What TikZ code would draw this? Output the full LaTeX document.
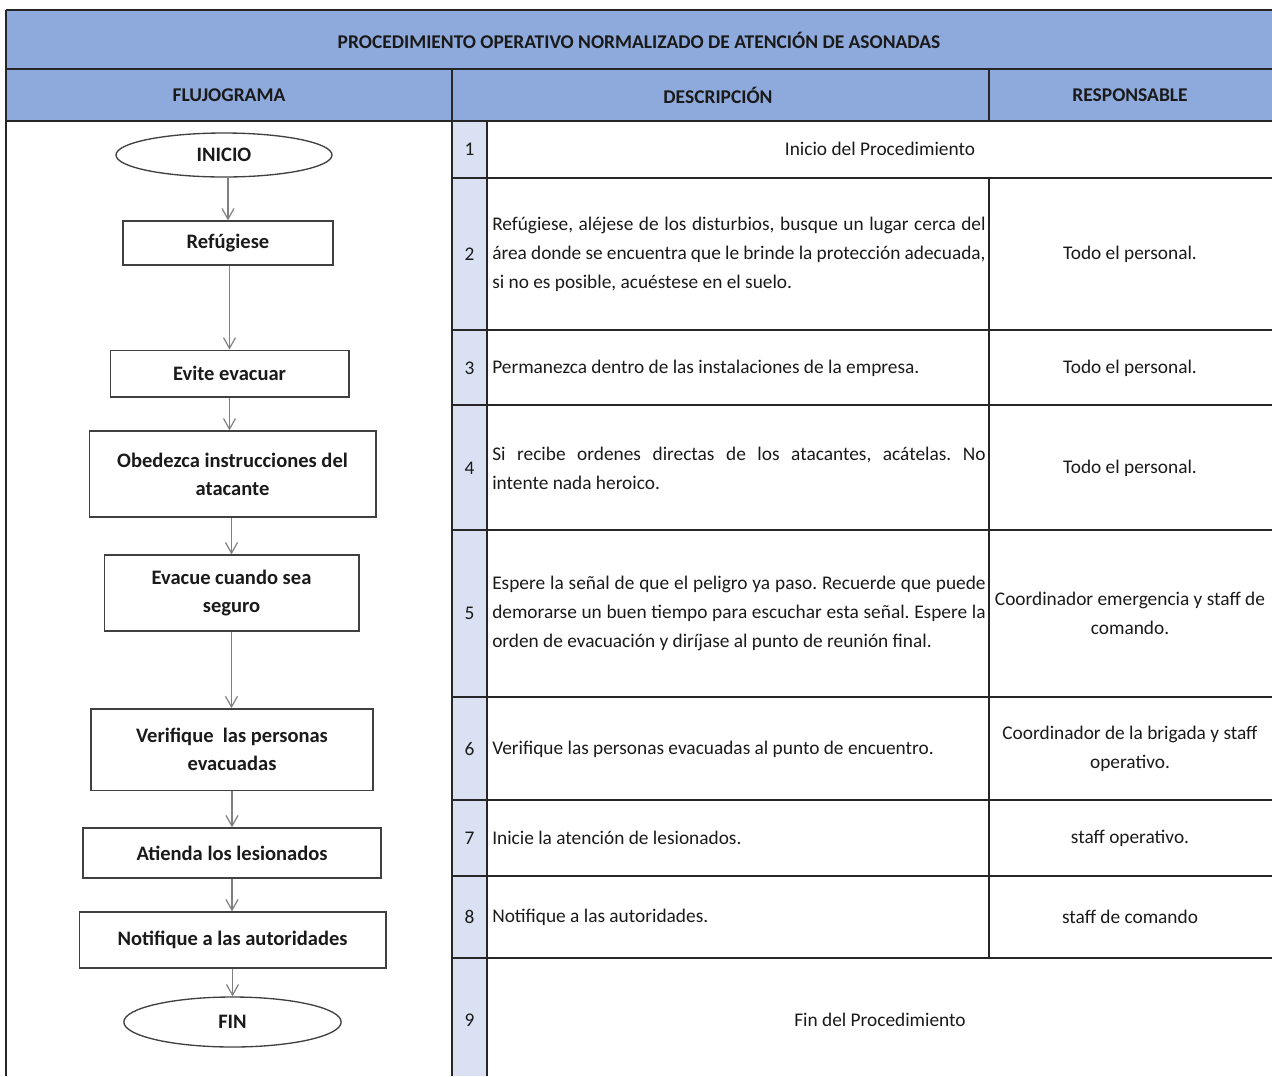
\documentclass[tikz,border=0pt]{standalone}
\usepackage{fontspec}
\setmainfont{Carlito}
\usetikzlibrary{shapes.geometric,arrows.meta}
\frenchspacing
\definecolor{hdrblue}{HTML}{8EA9DB}
\definecolor{numblue}{HTML}{D9E1F2}
\definecolor{boxline}{HTML}{404040}
\definecolor{arrgray}{HTML}{808080}
\definecolor{inkc}{HTML}{1A1A1A}
\tikzset{
 tbl/.style={line width=1.1pt, draw=black!85},
 hdrtext/.style={font=\bfseries\fontsize{14.6}{21}\selectfont, inner sep=0, text=inkc},
 txt/.style={font=\frenchspacing\fontsize{14.5}{21.75}\selectfont, inner sep=0, text=inkc},
 desc/.style={txt, anchor=west, text width=370pt, align=justify},
 resp/.style={txt, align=center},
 fbox/.style={draw=boxline, line width=1pt, rectangle, font=\bfseries\fontsize{15.4}{21}\selectfont, align=center, inner sep=0, text=inkc},
 fell/.style={fbox, ellipse},
 arr/.style={draw=arrgray, line width=0.9pt, -{Straight Barb[length=8pt,width=9pt]}}
}
\begin{document}
\begin{tikzpicture}[x=0.75pt,y=-0.75pt]
\useasboundingbox (0,0) rectangle (1272,1076);
% fills
\fill[hdrblue] (6,10) rectangle (1272,121);
\fill[numblue] (452,121) rectangle (487,1076);
% table lines
\draw[tbl] (6,10) -- (1272,10);
\draw[tbl] (6,69) -- (1272,69);
\draw[tbl] (6,121) -- (1272,121);
\draw[tbl] (6,10) -- (6,1076);
\draw[tbl] (452,69) -- (452,1076);
\draw[tbl] (487,121) -- (487,1076);
\draw[tbl] (989,69) -- (989,121);
\draw[tbl] (989,178) -- (989,958);
\foreach \yy in {178,330,405,530,697,800,876,958}{\draw[tbl] (452,\yy) -- (1272,\yy);}
% headers
\node[hdrtext] (title) at (639,40) {PROCEDIMIENTO OPERATIVO NORMALIZADO DE ATENCIÓN DE ASONADAS};
\node[hdrtext] (hflujo) at (229,95) {FLUJOGRAMA};
\node[hdrtext] (hdesc) at (718,95) {DESCRIPCIÓN};
\node[hdrtext] (hresp) at (1130,95) {RESPONSABLE};
% numbers
\node[txt] (n1) at (469.5,149) {1};
\node[txt] (n2) at (469.5,254) {2};
\node[txt] (n3) at (469.5,368) {3};
\node[txt] (n4) at (469.5,468) {4};
\node[txt] (n5) at (469.5,613) {5};
\node[txt] (n6) at (469.5,749) {6};
\node[txt] (n7) at (469.5,838) {7};
\node[txt] (n8) at (469.5,917) {8};
\node[txt] (n9) at (469.5,1020) {9};
% descriptions
\node[txt] (d1) at (880,149) {Inicio del Procedimiento};
\node[desc] (d2) at (492,254) {Refúgiese, aléjese de los disturbios, busque un lugar cerca del\linebreak área donde se encuentra que le brinde la protección adecuada,\linebreak si no es posible, acuéstese en el suelo.};
\node[desc] (d3) at (492,368) {Permanezca dentro de las instalaciones de la empresa.};
\node[desc] (d4) at (492,468) {Si recibe ordenes directas de los atacantes, acátelas. No\linebreak intente nada heroico.};
\node[desc] (d5) at (492,613) {Espere la señal de que el peligro ya paso. Recuerde que puede\linebreak demorarse un buen tiempo para escuchar esta señal. Espere la\linebreak orden de evacuación y diríjase al punto de reunión final.};
\node[desc] (d6) at (492,749) {Verifique las personas evacuadas al punto de encuentro.};
\node[desc] (d7) at (492,838) {Inicie la atención de lesionados.};
\node[desc] (d8) at (492,917) {Notifique a las autoridades.};
\node[txt] (d9) at (880,1020) {Fin del Procedimiento};
% responsables
\node[resp] (r2) at (1130,254) {Todo el personal.};
\node[resp] (r3) at (1130,368) {Todo el personal.};
\node[resp] (r4) at (1130,468) {Todo el personal.};
\node[resp] (r5) at (1130,613) {Coordinador emergencia y staff de\\comando.};
\node[resp] (r6) at (1130,749) {Coordinador de la brigada y staff\\operativo.};
\node[resp] (r7) at (1130,838) {staff operativo.};
\node[resp] (r8) at (1130,917) {staff de comando};
% flowchart
\node[fell, minimum width=162pt, minimum height=33pt] (inicio) at (224,155) {INICIO};
\node[fbox, minimum width=157.5pt, minimum height=33pt] (refugiese) at (228,243) {Refúgiese};
\node[fbox, minimum width=179pt, minimum height=35pt] (evite) at (229.5,373.5) {Evite evacuar};
\node[fbox, minimum width=215pt, minimum height=64.5pt] (obedezca) at (232.5,474) {Obedezca instrucciones del\\atacante};
\node[fbox, minimum width=191pt, minimum height=57pt] (evacue) at (231.5,593) {Evacue cuando sea\\seguro};
\node[fbox, minimum width=211.5pt, minimum height=61pt] (verifique) at (232,749.5) {Verifique\ \ las personas\\evacuadas};
\node[fbox, minimum width=223.5pt, minimum height=37.5pt] (atienda) at (232,853) {Atienda los lesionados};
\node[fbox, minimum width=230pt, minimum height=42pt] (notifique) at (232.5,940) {Notifique a las autoridades};
\node[fell, minimum width=163pt, minimum height=37.5pt] (fin) at (232.5,1022) {FIN};
% arrows
\draw[arr] (refugiese.north |- inicio.south) -- (refugiese.north);
\draw[arr] (evite.north |- refugiese.south) -- (evite.north);
\draw[arr] (evite.south) -- (evite.south |- obedezca.north);
\draw[arr] (evacue.north |- obedezca.south) -- (evacue.north);
\draw[arr] (evacue.south) -- (evacue.south |- verifique.north);
\draw[arr] (verifique.south) -- (verifique.south |- atienda.north);
\draw[arr] (atienda.south) -- (atienda.south |- notifique.north);
\draw[arr] (notifique.south) -- (fin.north);
\end{tikzpicture}
\end{document}
